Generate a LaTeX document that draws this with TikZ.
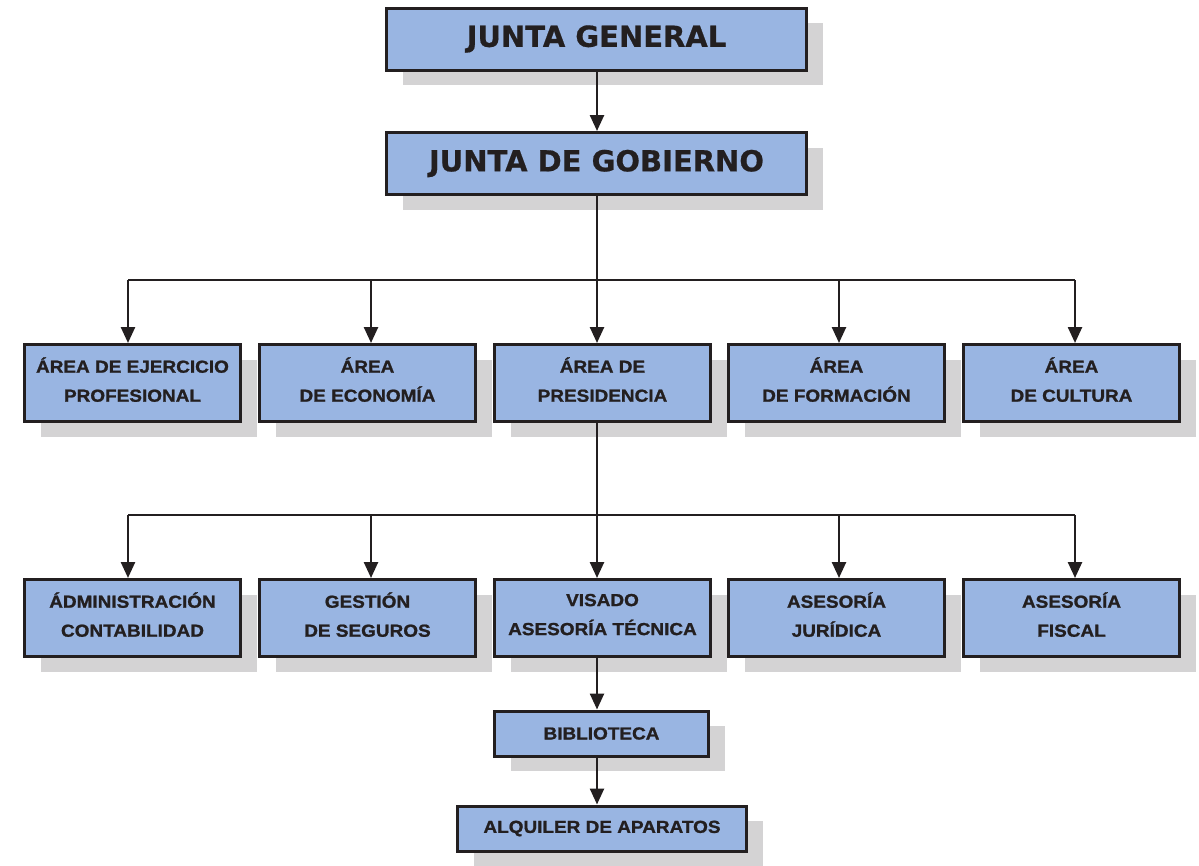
\documentclass[tikz,border=0pt]{standalone}
\usepackage{fontspec}
\usetikzlibrary{arrows.meta,shadows}
\newfontfamily\topfont[FakeBold=0.6]{DejaVu Sans}
\newfontfamily\rowfont[FakeStretch=1.09,FakeBold=1.2]{Liberation Sans}
\definecolor{boxblue}{RGB}{153,181,226}
\definecolor{shadowgray}{RGB}{212,211,212}
\definecolor{ink}{RGB}{35,31,32}
\tikzset{
  box/.style={draw=ink, line width=3pt, fill=boxblue, inner sep=0pt, align=center, text=ink,
    drop shadow={shadow xshift=16pt, shadow yshift=-15pt, fill=shadowgray, opacity=1}},
  topbox/.style={box, minimum width=420pt, minimum height=62pt, font=\topfont\bfseries\fontsize{29}{34}\selectfont},
  areabox/.style={box, minimum width=216pt, minimum height=77pt, text depth=7pt, font=\rowfont\bfseries\fontsize{17.4}{29}\selectfont},
  smallbox/.style={box, minimum height=45pt, font=\rowfont\bfseries\fontsize{17.4}{29}\selectfont},
  conn/.style={draw=ink, line width=2.5pt},
  arr/.style={conn, -{Triangle[width=14pt,length=16pt]}}
}
\begin{document}
\begin{tikzpicture}[x=1pt,y=-1pt]
\useasboundingbox (0,0) rectangle (1199,865);
% top
\node[topbox] (jg) at (596.5,39) {JUNTA GENERAL};
\node[topbox] (jgob) at (596.5,163.5) {JUNTA DE GOBIERNO};
% row 1
\node[areabox] (a1) at (132.5,383) {ÁREA DE EJERCICIO\\PROFESIONAL};
\node[areabox] (a2) at (367.5,383) {ÁREA\\DE ECONOMÍA};
\node[areabox] (a3) at (602.5,383) {ÁREA DE\\PRESIDENCIA};
\node[areabox] (a4) at (836.5,383) {ÁREA\\DE FORMACIÓN};
\node[areabox] (a5) at (1071.5,383) {ÁREA\\DE CULTURA};
% row 2
\node[areabox] (b1) at (132.5,618) {ÁDMINISTRACIÓN\\CONTABILIDAD};
\node[areabox] (b2) at (367.5,618) {GESTIÓN\\DE SEGUROS};
\node[areabox] (b3) at (602.5,618) {VISADO\\ASESORÍA TÉCNICA};
\node[areabox] (b4) at (836.5,618) {ASESORÍA\\JURÍDICA};
\node[areabox] (b5) at (1071.5,618) {ASESORÍA\\FISCAL};
% bottom
\node[smallbox, minimum width=214pt] (bib) at (601.5,733.5) {BIBLIOTECA};
\node[smallbox, minimum width=289pt] (alq) at (602,828.5) {ALQUILER DE APARATOS};
% connector coordinates
\coordinate (h1a) at (128,280);
\coordinate (h1b) at (371,280);
\coordinate (h1c) at (597,280);
\coordinate (h1d) at (839,280);
\coordinate (h1e) at (1075,280);
\coordinate (h2a) at (128,515);
\coordinate (h2b) at (371,515);
\coordinate (h2c) at (597,515);
\coordinate (h2d) at (839,515);
\coordinate (h2e) at (1075,515);
% connectors
\draw[arr] (jg.south -| h1c) -- (jgob.north -| h1c);
\draw[conn] (jgob.south -| h1c) -- (h1c);
\draw[conn] (h1a) -- (h1e);
\draw[arr] (h1a) -- (h1a |- a1.north);
\draw[arr] (h1b) -- (h1b |- a2.north);
\draw[arr] (h1c) -- (h1c |- a3.north);
\draw[arr] (h1d) -- (h1d |- a4.north);
\draw[arr] (h1e) -- (h1e |- a5.north);
\draw[conn] (a3.south -| h2c) -- (h2c);
\draw[conn] (h2a) -- (h2e);
\draw[arr] (h2a) -- (h2a |- b1.north);
\draw[arr] (h2b) -- (h2b |- b2.north);
\draw[arr] (h2c) -- (h2c |- b3.north);
\draw[arr] (h2d) -- (h2d |- b4.north);
\draw[arr] (h2e) -- (h2e |- b5.north);
\draw[arr] (b3.south -| h2c) -- (bib.north -| h2c);
\draw[arr] (bib.south -| h2c) -- (alq.north -| h2c);
\end{tikzpicture}
\end{document}
